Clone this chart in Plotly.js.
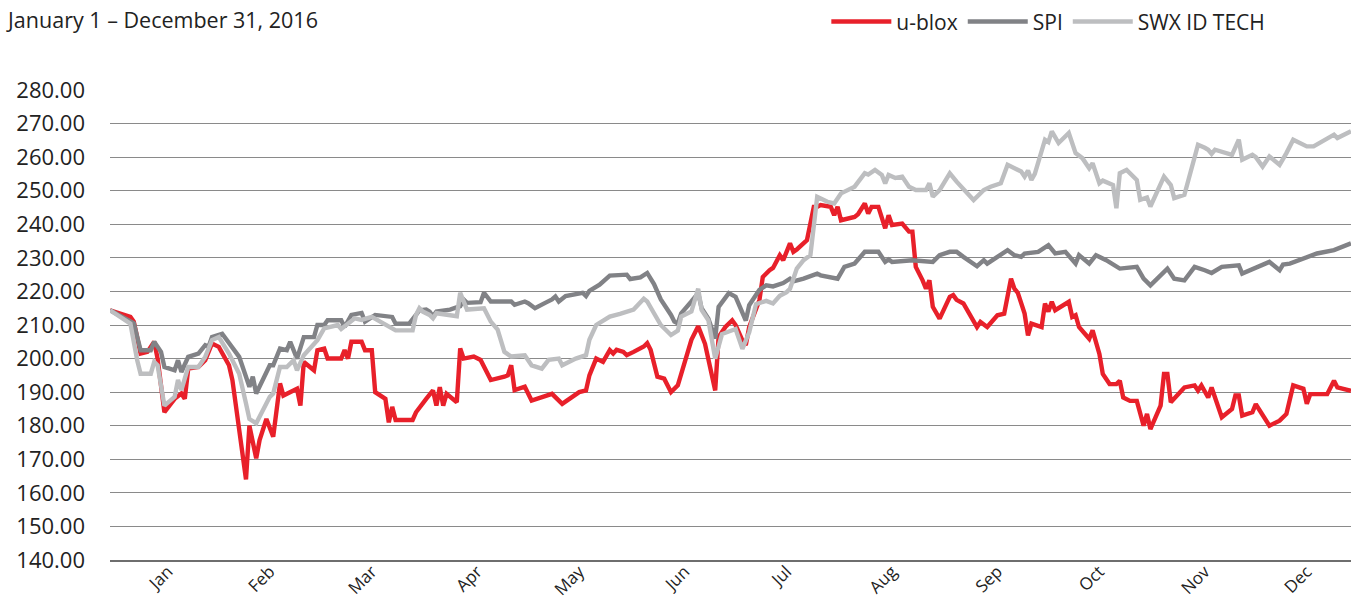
<!DOCTYPE html>
<html>
<head>
<meta charset="utf-8">
<script src="https://cdn.plot.ly/plotly-3.0.1.min.js"></script>
<style>
  html, body { margin: 0; padding: 0; background: #ffffff; }
  #chart { width: 1351px; height: 603px; }
</style>
</head>
<body>
<div id="chart"></div>
<script>
// ---- Data (day of year 2016, 0 = January 1) ----
const ubloxDays = [0,3,6,7,9,11,13,14,16,19,21,22,23,26,28,29,30,32,35,36,40,41,43,44,46,48,50,51,55,56,57,60,61,63,64,68,69,70,71,74,75,77,78,81,82,83,84,89,90,93,94,95,96,97,98,99,102,103,104,107,109,112,116,117,118,119,122,124,130,133,138,140,141,143,145,146,147,148,149,151,152,154,157,158,159,161,163,165,167,171,173,174,175,178,179,181,183,184,186,187,188,191,192,194,195,197,198,200,201,202,205,207,208,209,212,213,214,215,219,220,222,223,224,226,228,229,230,233,235,236,237,239,240,241,242,244,247,248,249,251,255,256,258,261,263,265,266,267,269,270,271,274,275,276,277,278,282,283,284,285,288,289,291,292,294,296,297,298,300,302,304,305,306,309,310,311,312,316,319,320,321,323,324,327,330,331,332,333,336,337,339,341,344,346,348,351,352,353,358,360,361,365];
const ubloxValues = [214.4,213.5,212.4,211,201.5,202,205,200,184,188,189.6,188,197,197.5,199.5,202,204.5,203.5,198,193.6,164,180,170.3,175.7,182,176.7,192.6,189,191,186,199,196.5,202.5,203,200,200,202.5,200,205,205,202.5,202.5,190,188,181,185.6,181.7,181.7,184,188,189.5,190.5,186,191.5,186,189.5,187,203,200,200.6,199.6,193.6,194.6,195,198,190.6,191.6,187.5,189.5,186.5,190,190.5,195,200,199,200.6,202.5,201.5,202.6,202,201,202,203.6,204.6,202.6,194.6,194,190,192,205.6,209.6,207,204.4,190.5,206.4,209.4,211.4,210,205.4,204,209.4,217.4,224.3,226.3,227,230.8,229.3,234.3,231.8,232.5,235.3,245.2,245.2,245.7,245.2,242.7,245.2,241.2,242.2,243,246.2,243.2,245.2,245.2,238.8,242.7,239.8,240.2,237.8,237.8,227.3,223.3,220.8,223.3,215.4,211.9,218.4,218.9,217.5,216.4,209.4,210.9,209.4,212.9,213.4,223.8,220.8,219.6,213.4,206.9,210.4,209.4,216.4,214,216.9,214.4,216.9,212.4,212.9,209.4,205.9,208.4,201.4,195.4,192.4,192.4,193.4,188.4,187.4,187.4,180,183.5,179,186,195.4,195.4,187,191.4,192,190.5,192,188.4,191.4,182.5,185,189,189,183,184,186.4,183,180,181.5,183.5,192,191,186.5,189.4,189.4,193.4,191.4,190.4];

const spiDays = [0,6,7,9,12,13,15,16,19,20,21,23,26,28,29,30,33,38,41,42,43,47,48,50,52,53,55,57,60,61,63,64,68,69,71,74,75,78,83,84,88,90,91,93,94,95,96,100,103,104,105,109,110,112,118,119,122,123,125,128,130,131,132,134,139,140,141,144,147,152,153,156,158,160,162,165,166,167,168,171,173,174,176,178,179,182,184,187,188,191,193,195,198,200,201,204,208,209,212,214,216,219,222,226,228,229,230,236,242,244,247,249,251,255,257,258,261,264,266,268,269,273,276,278,281,284,285,288,290,293,297,302,304,306,311,313,316,319,322,324,327,332,333,338,341,344,345,347,351,355,360,365];
const spiValues = [214.4,211,210.5,202.5,202.5,205,202,197.5,196.5,199.5,196,200.5,201.5,204,203.5,206.4,207.4,200.5,191.6,194.6,189.6,198,198,203,202.5,205,200,206.4,206.4,210,210,211.4,211.4,209.4,213,213.6,211,213,212.4,210.4,210.4,213,214.4,214.6,214,212.6,214,214.6,215.6,217.6,216.6,216.8,219.6,217,217,216,217,216.5,215,216.6,217.6,218.5,217,218.6,219.6,218.6,220.2,222,224.7,225,223.7,224.2,225.5,222.2,217.6,213,211,210.5,213.5,217,219.5,215,211.9,206,215.4,219.5,218.4,211.3,215.9,220.5,221.8,221.5,222.5,223.8,223,223.8,225.3,224.8,224.3,223.8,227.3,228.3,231.8,231.8,228.8,229.5,228.8,229.3,228.8,230.8,231.8,231.8,230.3,227.5,229.3,228.3,230.3,232.3,230.8,230.3,231.3,231.8,233.8,231.3,231.8,228.3,230.8,228.3,230.8,229.3,226.8,227.3,223.8,221.8,226.8,223.8,223.3,227.3,226.3,225.5,227.3,227.8,225.3,227.3,228.8,226.3,228,228.3,229.8,231.3,232.3,234.3];

const swxDays = [0,6,8,9,12,13,14,16,19,20,21,23,26,28,30,32,35,38,40,41,43,47,48,50,52,54,55,57,61,63,67,68,72,74,77,81,84,89,90,91,92,94,95,96,101,102,103,105,110,112,114,116,118,122,124,127,129,132,133,137,140,141,143,147,150,152,154,157,158,160,162,165,166,167,168,171,173,174,176,178,180,184,186,188,190,193,195,197,199,200,202,204,206,208,211,213,215,219,222,223,225,227,228,229,231,233,235,237,240,241,242,244,247,249,254,257,259,262,264,266,268,269,270,271,272,275,276,277,279,282,284,286,288,289,291,292,295,296,297,299,302,303,305,306,310,312,313,316,320,322,323,324,325,330,332,333,336,337,339,341,344,346,348,352,354,360,361,365];
const swxValues = [214.4,210.4,199.5,195.5,195.5,199,198,186,188.6,193.6,190.6,197.5,197.5,200.5,205.5,206.4,201.5,195.5,186.6,182,180.7,188.6,189.6,197.5,197.5,199.5,196.5,201,205.5,209,210,208.8,212,211.5,212.4,209.9,208.4,208.4,213,215,214,213,212,213.5,213,212.6,219.6,214.6,215,211,208.6,202,200.6,201,198,197,199.6,200,198,200,201,205.6,210,212.5,213.3,213.8,214.6,217.8,217,213.5,210,207,207.5,208.3,212.5,214,220.8,214.5,211.4,200,207.3,208.8,202.9,207.8,216.2,217.2,216.4,218.7,219.8,220.8,226.8,229.3,230.8,248.2,246.7,246.2,249.2,251.2,255.2,254.8,256.2,254.7,252.2,254.7,253.8,254.2,251.2,250.2,250.2,252.2,248.2,250.2,255.2,252.7,247.2,250.2,251.2,252.2,257.7,256.7,255.7,254.2,256,253.2,255,265.2,264.5,267.7,264.2,267.2,261.2,259.7,256.7,258.2,252.2,253,251.7,244.8,255.2,256.2,253.2,247.3,248,245.3,254.2,251.7,247.8,248.8,263.7,262.8,262.2,261,262.2,260.7,265.2,259.2,260.7,260,257.2,260.2,257.7,261.2,265.2,263.2,263.2,266.7,265.7,267.7];

const seriesNames = ['u-blox', 'SPI', 'SWX ID TECH'];
const monthLabels = ['Jan','Feb','Mar','Apr','May','Jun','Jul','Aug','Sep','Oct','Nov','Dec'];
const monthTickDates = ['2016-01-18','2016-02-17','2016-03-18','2016-04-18','2016-05-18','2016-06-18','2016-07-18','2016-08-18','2016-09-18','2016-10-18','2016-11-18','2016-12-18'];
const yTicks = [140,150,160,170,180,190,200,210,220,230,240,250,260,270,280];

// ---- Build traces ----
const toDate = d => new Date(Date.UTC(2016, 0, 1 + d)).toISOString().slice(0, 10);
const FONT = '"Open Sans", "Noto Sans", sans-serif';

const traces = [
  { x: ubloxDays.map(toDate), y: ubloxValues, name: seriesNames[0], color: '#e8202a' },
  { x: spiDays.map(toDate), y: spiValues, name: seriesNames[1], color: '#818286' },
  { x: swxDays.map(toDate), y: swxValues, name: seriesNames[2], color: '#bdbec0' }
].map(s => ({
  type: 'scatter', mode: 'lines', x: s.x, y: s.y, name: s.name,
  line: { color: s.color, width: 4.4, shape: 'linear' },
  hoverinfo: 'x+y+name'
}));

const layout = {
  width: 1351, height: 603,
  margin: { l: 110, r: 0, t: 90, b: 43, pad: 0 },
  paper_bgcolor: '#ffffff', plot_bgcolor: '#ffffff',
  font: { family: FONT, color: '#222222', size: 20 },
  title: {
    text: 'January 1 – December 31, 2016',
    font: { family: FONT, size: 21.5, color: '#222222' },
    xref: 'container', yref: 'container',
    x: 0.006, xanchor: 'left', y: 0.966, yanchor: 'middle'
  },
  showlegend: true,
  legend: {
    orientation: 'h', x: 0.935, xanchor: 'right', y: 1.145, yanchor: 'middle',
    font: { family: FONT, size: 21, color: '#222222' },
    itemwidth: 60, tracegroupgap: 0, bgcolor: 'rgba(0,0,0,0)'
  },
  xaxis: {
    type: 'date',
    range: ['2016-01-01', '2016-12-31'],
    tickvals: monthTickDates, ticktext: monthLabels,
    tickangle: -45, ticks: '', showgrid: false, zeroline: false,
    showline: true, linecolor: '#6e6e6e', linewidth: 2,
    ticklabelstandoff: -7,
    tickfont: { family: FONT, size: 17, color: '#222222' },
    fixedrange: true
  },
  yaxis: {
    range: [140, 280], tickvals: yTicks, tickformat: '.2f',
    showgrid: true, gridcolor: '#8a8a8a', gridwidth: 1,
    zeroline: false, showline: false, ticks: '',
    ticklabelstandoff: 24,
    tickfont: { family: FONT, size: 22, color: '#222222' },
    fixedrange: true
  },
  hovermode: false
};

Plotly.newPlot('chart', traces, layout, { displayModeBar: false, staticPlot: true });
</script>
</body>
</html>
